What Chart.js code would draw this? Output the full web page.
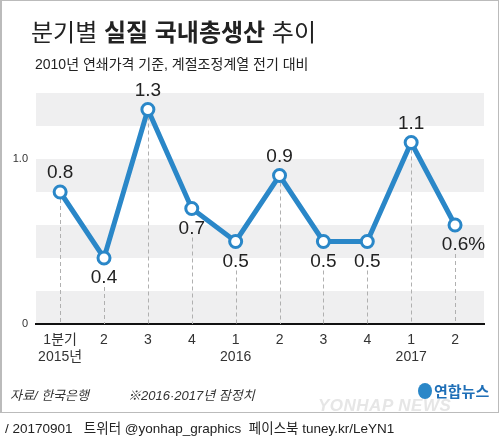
<!DOCTYPE html>
<html>
<head>
<meta charset="utf-8">
<script src="https://cdn.jsdelivr.net/npm/chart.js@4"></script>
<style>
    body { margin: 0; background: #fff; font-family: "Liberation Sans", "Noto Sans CJK KR", sans-serif; color: #222; }
    #wrap { position: relative; width: 500px; height: 439px; overflow: hidden; }
    #frame { position: absolute; left: 0; top: 0; width: 496px; height: 411px; border: 1px solid #bbb; border-left-width: 2px; box-sizing: content-box; }
    canvas { position: absolute; left: 0; top: 0; }
    .txt { position: absolute; white-space: nowrap; }
    #title { left: 31px; top: 13px; font-size: 24px; }
    #title b { font-weight: 700; }
    #sub { left: 35px; top: 53px; font-size: 14px; color: #222; }
    #src { left: 10px; top: 385px; font-size: 13px; font-style: italic; color: #333; }
    #note { left: 128px; top: 385px; font-size: 13px; font-style: italic; color: #333; }
    #logo { left: 418px; top: 380px; font-size: 15px; font-weight: 700; color: #1f6fb7; }
    #logo i { display: inline-block; width: 14px; height: 16px; border-radius: 50%; background: #2a87c8; vertical-align: -2px; margin-right: 2px; }
    #mark { left: 318px; top: 396px; font-size: 17px; font-weight: 700; color: #e6e6e6; letter-spacing: 0.5px; font-style: italic; }
    #credit { left: 5px; top: 417px; font-size: 13.5px; color: #222; }
</style>
</head>
<body>
<div id="wrap">
    <div id="frame"></div>
    <canvas id="gdpChart" width="500" height="439"></canvas>
    <div class="txt" id="title">분기별 <b>실질 국내총생산</b> 추이</div>
    <div class="txt" id="sub">2010년 연쇄가격 기준, 계절조정계열 전기 대비</div>
    <div class="txt" id="mark">YONHAP NEWS</div>
    <div class="txt" id="src">자료/ 한국은행</div>
    <div class="txt" id="note">※2016·2017년 잠정치</div>
    <div class="txt" id="logo"><i></i>연합뉴스</div>
    <div class="txt" id="credit">/ 20170901 &nbsp; 트위터 @yonhap_graphics &nbsp;페이스북 tuney.kr/LeYN1</div>
</div>
<script>
const quarters = ['1분기', '2', '3', '4', '1', '2', '3', '4', '1', '2'];
const years = ['2015년', '', '', '', '2016', '', '', '', '2017', ''];
const growth = [0.8, 0.4, 1.3, 0.7, 0.5, 0.9, 0.5, 0.5, 1.1, 0.6];
const valueLabels = ['0.8', '0.4', '1.3', '0.7', '0.5', '0.9', '0.5', '0.5', '1.1', '0.6%'];
const labelSide = ['up', 'down', 'up', 'down', 'down', 'up', 'down', 'down', 'up', 'down'];

const BLUE = '#2a87c8';
const BAND = '#efeff0';

// grey bands every other 0.2 step
const bandsPlugin = {
    id: 'bands',
    beforeDraw(chart) {
        const { ctx, chartArea, scales } = chart;
        const ticks = scales.y.ticks;
        ctx.save();
        ctx.fillStyle = BAND;
        for (let i = 0; i + 1 < ticks.length; i += 2) {
            const y1 = scales.y.getPixelForValue(ticks[i].value);
            const y2 = scales.y.getPixelForValue(ticks[i + 1].value);
            ctx.fillRect(chartArea.left, y2, chartArea.right - chartArea.left, y1 - y2);
        }
        ctx.restore();
    }
};

// dashed drop lines + value labels
const labelsPlugin = {
    id: 'valueLabels',
    beforeDatasetsDraw(chart) {
        const { ctx, scales } = chart;
        const meta = chart.getDatasetMeta(0);
        const base = scales.y.getPixelForValue(0);
        ctx.save();
        ctx.strokeStyle = '#b0b0b0';
        ctx.lineWidth = 1;
        ctx.setLineDash([4, 3]);
        meta.data.forEach((pt, i) => {
            const start = labelSide[i] === 'up' ? pt.y : pt.y + 29;
            ctx.beginPath();
            ctx.moveTo(Math.round(pt.x) + 0.5, start);
            ctx.lineTo(Math.round(pt.x) + 0.5, base);
            ctx.stroke();
        });
        ctx.restore();
    },
    afterDatasetsDraw(chart) {
        const { ctx } = chart;
        const meta = chart.getDatasetMeta(0);
        ctx.save();
        ctx.font = '19px "Liberation Sans", sans-serif';
        ctx.fillStyle = '#222';
        ctx.textBaseline = 'middle';
        ctx.textAlign = 'left';
        meta.data.forEach((pt, i) => {
            const txt = valueLabels[i];
            const numW = ctx.measureText(txt.replace('%', '')).width;
            const y = labelSide[i] === 'up' ? pt.y - 19 : pt.y + 20;
            ctx.fillText(txt, pt.x - numW / 2, y);
        });
        ctx.restore();
    }
};

new Chart(document.getElementById('gdpChart').getContext('2d'), {
    type: 'line',
    data: {
        datasets: [{
            data: growth.map((v, i) => ({ x: i, y: v })),
            borderColor: BLUE,
            borderWidth: 5,
            tension: 0,
            pointRadius: 6,
            pointBorderWidth: 3,
            pointBackgroundColor: '#fff',
            pointBorderColor: BLUE,
            clip: false
        }]
    },
    options: {
        responsive: false,
        animation: false,
        devicePixelRatio: 1,
        layout: { padding: { left: 0, top: 93, right: 16, bottom: 65 } },
        plugins: { legend: { display: false }, tooltip: { enabled: false } },
        scales: {
            x: {
                type: 'linear',
                min: -0.55,
                max: 9.66,
                afterBuildTicks(scale) {
                    scale.ticks = quarters.map((_, i) => ({ value: i }));
                },
                afterFit(scale) { scale.height = 50; },
                grid: { display: false, drawTicks: false },
                border: { display: true, color: '#111', width: 2 },
                ticks: {
                    autoSkip: false,
                    maxRotation: 0,
                    padding: 8,
                    color: '#333',
                    font: { size: 14, family: '"Liberation Sans", "Noto Sans CJK KR", sans-serif', lineHeight: 1.2 },
                    callback: (v) => [quarters[v], years[v]]
                }
            },
            y: {
                min: 0,
                max: 1.4,
                afterFit(scale) { scale.width = 36; },
                grid: { display: false, drawTicks: false },
                border: { display: false },
                ticks: {
                    stepSize: 0.2,
                    padding: 8,
                    color: '#333',
                    font: { size: 11, family: '"Liberation Sans", sans-serif' },
                    callback: (v) => (v === 0 ? '0' : Math.abs(v - 1) < 1e-9 ? '1.0' : '')
                }
            }
        }
    },
    plugins: [bandsPlugin, labelsPlugin]
});
</script>
</body>
</html>
